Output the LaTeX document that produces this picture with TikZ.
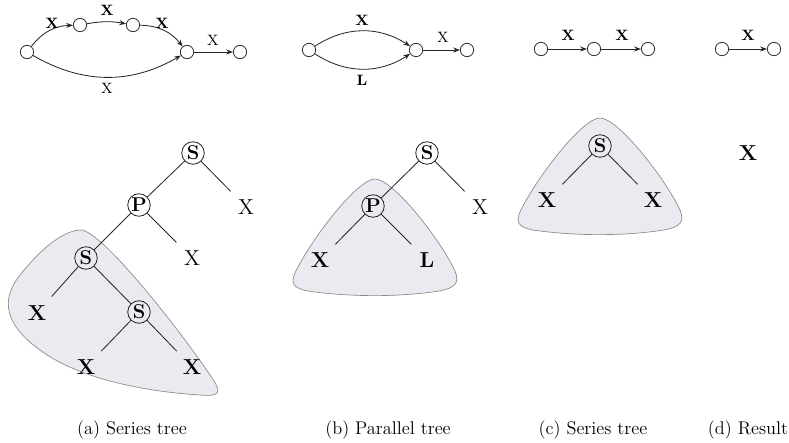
\documentclass[tikz,border=0pt]{standalone}
\usetikzlibrary{arrows.meta}
\definecolor{blobfill}{HTML}{EAEAF1}
\definecolor{blobdraw}{HTML}{8A8A8A}
\begin{document}
\begin{tikzpicture}[x=0.6pt,y=-0.6pt,
  vtx/.style={circle,draw=black!80,line width=0.5pt,minimum size=8pt,inner sep=0pt},
  arc/.style={-{Stealth[length=4pt,width=3pt]},line width=0.5pt,black!85},
  elab/.style={font=\fontsize{9}{10}\selectfont\bfseries, inner sep=0pt},
  elabr/.style={font=\fontsize{9}{10}\selectfont, inner sep=0pt},
  tnode/.style={circle,draw=black!85,line width=0.5pt,minimum size=13.5pt,inner sep=0pt,font=\fontsize{12}{13}\selectfont\bfseries},
  leafb/.style={circle,minimum size=26pt,inner sep=0pt,font=\fontsize{13}{15}\selectfont\bfseries},
  leafr/.style={circle,minimum size=26pt,inner sep=0pt,font=\fontsize{13}{15}\selectfont},
  tedge/.style={line width=0.5pt,black!85},
  blob/.style={fill=blobfill,draw=blobdraw,line width=0.4pt},
  captxt/.style={font=\fontsize{11}{13}\selectfont}
]
\useasboundingbox (0,0) rectangle (789,443);

% ---------- blobs ----------
\path[blob] (80,230) .. controls (100,228) and (180,330) .. (212,378)
  .. controls (222,392) and (220,397) .. (200,395)
  .. controls (150,392) and (80,380) .. (40,350)
  .. controls (5,325) and (0,300) .. (20,275)
  .. controls (40,250) and (62,231) .. (80,230) -- cycle;
\foreach \dx/\dy in {0/0,-225/61}{
\path[blob,shift={(\dx*0.6pt,-\dy*0.6pt)}] (600,118) .. controls (582,118) and (535,180) .. (520,212)
  .. controls (514,225) and (522,229) .. (540,231)
  .. controls (580,236) and (625,236) .. (664,230)
  .. controls (680,227) and (685,222) .. (680,210)
  .. controls (665,178) and (618,118) .. (600,118) -- cycle;
}

% ---------- top graph (a) ----------
\node[vtx] (a1) at (27,52) {};
\node[vtx] (a2) at (80,25) {};
\node[vtx] (a3) at (133,25) {};
\node[vtx] (a4) at (187,52) {};
\node[vtx] (a5) at (240,52) {};
\draw[arc] (a1) to[bend left=25] (a2);
\draw[arc] (a2) to[bend left=10] (a3);
\draw[arc] (a3) to[bend left=25] (a4);
\draw[arc] (a1) to[bend right=30] (a4);
\draw[arc] (a4) -- (a5);
\node[elab] (la1) at (52,23) {X};
\node[elab] (la2) at (107,10) {X};
\node[elab] (la3) at (162,23) {X};
\node[elabr] (la4) at (213,40) {X};
\node[elabr] (la5) at (107,88) {X};

% ---------- top graph (b) ----------
\node[vtx] (b1) at (309,50) {};
\node[vtx] (b2) at (416,50) {};
\node[vtx] (b3) at (467,50) {};
\draw[arc] (b1) to[bend left=33] (b2);
\draw[arc] (b1) to[bend right=33] (b2);
\draw[arc] (b2) -- (b3);
\node[elab] (lb1) at (362,20) {X};
\node[elab] (lb2) at (362,80) {L};
\node[elabr] (lb3) at (443,37) {X};

% ---------- top graph (c) ----------
\node[vtx] (c1) at (541,49) {};
\node[vtx] (c2) at (594,49) {};
\node[vtx] (c3) at (648,49) {};
\draw[arc] (c1) -- (c2);
\draw[arc] (c2) -- (c3);
\node[elab] (lc1) at (568,35) {X};
\node[elab] (lc2) at (622,35) {X};

% ---------- top graph (d) ----------
\node[vtx] (d1) at (722,49) {};
\node[vtx] (d2) at (774,49) {};
\draw[arc] (d1) -- (d2);
\node[elab] (ld1) at (748,35) {X};

% ---------- tree (a) ----------
\node[tnode] (tS1) at (193,153) {S};
\node[tnode] (tP1) at (139,205) {P};
\node[tnode] (tS2) at (86,258) {S};
\node[tnode] (tS3) at (139,312) {S};
\node[leafr] (x1) at (246,207) {X};
\node[leafr] (x2) at (192,258) {X};
\node[leafb] (x3) at (37,313) {X};
\node[leafb] (x4) at (86,367) {X};
\node[leafb] (x5) at (192,367) {X};
\draw[tedge] (tS1) -- (tP1);
\draw[tedge] (tS1) -- (x1);
\draw[tedge] (tP1) -- (tS2);
\draw[tedge] (tP1) -- (x2);
\draw[tedge] (tS2) -- (x3);
\draw[tedge] (tS2) -- (tS3);
\draw[tedge] (tS3) -- (x4);
\draw[tedge] (tS3) -- (x5);

% ---------- tree (b) ----------
\node[tnode] (uS) at (427,153) {S};
\node[tnode] (uP) at (373,206) {P};
\node[leafr] (y1) at (480,207) {X};
\node[leafb] (y2) at (320,260) {X};
\node[leafb] (y3) at (427,260) {L};
\draw[tedge] (uS) -- (uP);
\draw[tedge] (uS) -- (y1);
\draw[tedge] (uP) -- (y2);
\draw[tedge] (uP) -- (y3);

% ---------- tree (c) ----------
\node[tnode] (vS) at (600,146) {S};
\node[leafb] (z1) at (547,200) {X};
\node[leafb] (z2) at (653,200) {X};
\draw[tedge] (vS) -- (z1);
\draw[tedge] (vS) -- (z2);

% ---------- result (d) ----------
\node[leafb] (w1) at (748,153) {X};

% ---------- captions ----------
\node[captxt] (capa) at (132,430) {(a) Series tree};
\node[captxt] (capb) at (388,430) {(b) Parallel tree};
\node[captxt] (capc) at (593,430) {(c) Series tree};
\node[captxt] (capd) at (748,430) {(d) Result};
\end{tikzpicture}
\end{document}
